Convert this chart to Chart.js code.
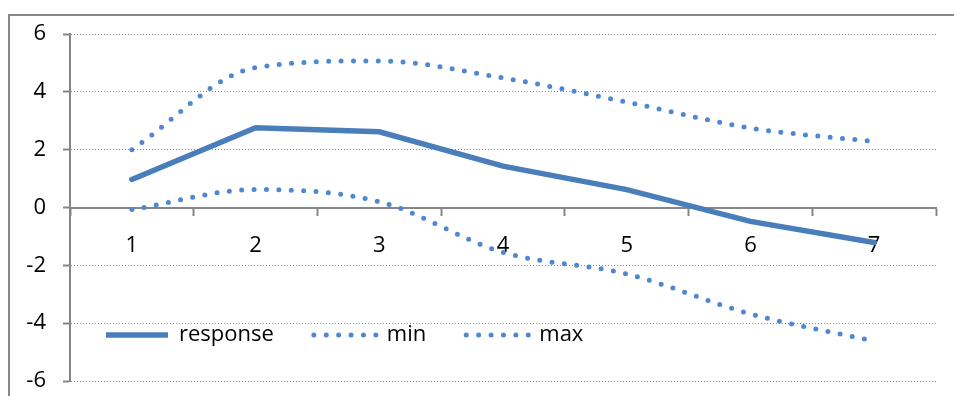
<!DOCTYPE html>
<html>
<head>
<meta charset="utf-8">
<script src="https://cdn.jsdelivr.net/npm/chart.js@4/dist/chart.umd.min.js"></script>
<style>
  html, body { margin: 0; padding: 0; background: #fff; overflow: hidden; }
  #box {
    position: absolute; left: 8px; top: 14px;
    border-left: 2px solid #888; border-top: 2px solid #888;
  }
  canvas { display: block; }
</style>
</head>
<body>
<div id="box"><canvas id="chart" width="960" height="460"></canvas></div>
<script>
const categories = ["1", "2", "3", "4", "5", "6", "7"];
const response = [0.97, 2.76, 2.62, 1.43, 0.62, -0.48, -1.21];
const minValues = [-0.07, 0.62, 0.2, -1.55, -2.3, -3.68, -4.62];
const maxValues = [2.0, 4.84, 5.07, 4.48, 3.65, 2.75, 2.28];
const yTicks = [-6, -4, -2, 0, 2, 4, 6];

const lineBlue = "#4a7ebb";
const dotBlue = "#4f88d2";
const grey = "#878787";
const font = { family: "'Open Sans', sans-serif", size: 22 };

// legend sits inside the plot, bottom left (canvas coords)
const legendX = 96;
const legendY = 308;

const legendInside = {
  id: "legendInside",
  beforeLayout(chart) {
    const lg = chart.legend;
    if (lg && !lg._patched) {
      const fit = lg.fit;
      lg.fit = function () {
        fit.call(this);
        this._realHeight = this.height;
        this.height = 0; // take no room in the layout
      };
      lg._patched = true;
    }
  },
  afterLayout(chart) {
    const lg = chart.legend;
    const pad = lg.options.labels.padding;
    lg.left = legendX - pad;
    lg.top = legendY - pad;
    lg.right = lg.left + lg.width;
    lg.bottom = lg.top + lg._realHeight + 40;
  },
};

const dotted = (label, data) => ({
  label: label,
  data: data,
  borderColor: dotBlue,
  backgroundColor: dotBlue,
  borderWidth: 5,
  borderDash: [0, 12.4],
  borderCapStyle: "round",
  cubicInterpolationMode: "monotone",
  pointRadius: 0,
});

new Chart(document.getElementById("chart"), {
  type: "line",
  data: {
    labels: categories,
    datasets: [
      {
        label: "response",
        data: response,
        borderColor: lineBlue,
        backgroundColor: lineBlue,
        borderWidth: 5.5,
        borderCapStyle: "round",
        tension: 0,
        pointRadius: 0,
      },
      dotted("min", minValues),
      dotted("max", maxValues),
    ],
  },
  options: {
    responsive: false,
    animation: false,
    layout: { padding: { left: 0, top: 18, right: 34, bottom: 95 } },
    plugins: {
      tooltip: { enabled: false },
      legend: {
        position: "bottom",
        align: "start",
        labels: {
          boxWidth: 62,
          boxHeight: 0,
          padding: 40,
          color: "#000",
          font: font,
        },
      },
    },
    scales: {
      x: {
        type: "category",
        position: { y: 0 },
        offset: true,
        grid: {
          offset: true,
          drawOnChartArea: false,
          tickLength: 7,
          tickColor: grey,
          tickWidth: 2,
        },
        border: { color: grey, width: 2 },
        ticks: { color: "#000", font: font, padding: 18, maxRotation: 0 },
      },
      y: {
        position: "left",
        min: -6,
        max: 6,
        afterFit(scale) {
          scale.width = 60;
          scale.paddingTop = 0;
          scale.paddingBottom = 0;
        },
        afterBuildTicks(scale) {
          scale.ticks = yTicks.map((v) => ({ value: v }));
        },
        grid: {
          color: "#8c8c8c",
          lineWidth: 1,
          tickLength: 7,
          tickColor: grey,
          tickWidth: 2,
          tickBorderDash: [],
        },
        border: { color: grey, width: 2, dash: [1, 2] },
        ticks: { color: "#000", font: font, padding: 17 },
      },
    },
  },
  plugins: [legendInside],
});
</script>
</body>
</html>
